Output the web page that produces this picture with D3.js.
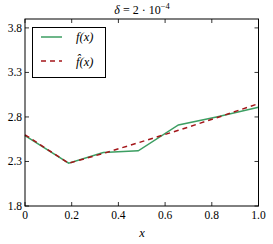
<!DOCTYPE html>
<html><head><meta charset="utf-8">
<script src="https://cdnjs.cloudflare.com/ajax/libs/d3/7.8.5/d3.min.js"></script>
<style>body{margin:0;background:#fff}svg{display:block}text{font-family:"Liberation Serif","Times New Roman","DejaVu Serif",serif}</style>
</head><body>
<script>
const xs = [0, 0.187, 0.335, 0.485, 0.657, 0.82, 1.0];
const fVals = [2.59, 2.28, 2.40, 2.42, 2.71, 2.80, 2.91];
const fhatVals = [2.60, 2.28, 2.39, 2.51, 2.65, 2.79, 2.95];
const xTicks = [0, 0.2, 0.4, 0.6, 0.8, 1.0];
const yTicks = [1.8, 2.3, 2.8, 3.3, 3.8];
const seriesNames = ["f(x)", "f̂(x)"];

const W = 273, H = 244;
const svg = d3.select("body").append("svg").attr("width", W).attr("height", H);
const L = 25, R = 258.5, T = 19, B = 206;
const x = d3.scaleLinear().domain([0, 1]).range([L, R]);
const y = d3.scaleLinear().domain([1.8, 3.9]).range([B, T]);

const tl = 4;
xTicks.forEach(t => {
  svg.append("line").attr("x1", x(t)).attr("x2", x(t)).attr("y1", B).attr("y2", B - tl).attr("stroke", "#000").attr("stroke-width", 0.8);
  svg.append("line").attr("x1", x(t)).attr("x2", x(t)).attr("y1", T).attr("y2", T + tl).attr("stroke", "#000").attr("stroke-width", 0.8);
  svg.append("text").attr("x", x(t)).attr("y", B + 13).attr("text-anchor", "middle")
    .style("font-size", "11.5px").text(t === 0 ? "0" : t.toFixed(1));
});
yTicks.forEach(t => {
  svg.append("line").attr("x1", L).attr("x2", L + tl).attr("y1", y(t)).attr("y2", y(t)).attr("stroke", "#000").attr("stroke-width", 0.8);
  svg.append("line").attr("x1", R).attr("x2", R - tl).attr("y1", y(t)).attr("y2", y(t)).attr("stroke", "#000").attr("stroke-width", 0.8);
  svg.append("text").attr("x", L - 3).attr("y", y(t) + 4).attr("text-anchor", "end")
    .style("font-size", "11.5px").text(t.toFixed(1));
});

const line = d3.line().x((d, i) => x(xs[i])).y(d => y(d));
svg.append("path").attr("d", line(fVals)).attr("fill", "none").attr("stroke", "#3c9e62").attr("stroke-width", 1.5);
svg.append("path").attr("d", line(fhatVals)).attr("fill", "none").attr("stroke", "#a4161a").attr("stroke-width", 1.5).attr("stroke-dasharray", "5,4");

svg.append("rect").attr("x", L).attr("y", T).attr("width", R - L).attr("height", B - T)
  .attr("fill", "none").attr("stroke", "#000").attr("stroke-width", 1);

const lg = svg.append("g");
lg.append("rect").attr("x", 32.5).attr("y", 27.5).attr("width", 73).attr("height", 50)
  .attr("fill", "#fff").attr("stroke", "#000").attr("stroke-width", 1);
lg.append("line").attr("x1", 41).attr("x2", 62).attr("y1", 37).attr("y2", 37).attr("stroke", "#3c9e62").attr("stroke-width", 1.5);
lg.append("line").attr("x1", 41).attr("x2", 62).attr("y1", 61).attr("y2", 61).attr("stroke", "#a4161a").attr("stroke-width", 1.5).attr("stroke-dasharray", "5,4");
lg.append("text").attr("x", 76).attr("y", 41).style("font-size", "12.5px").style("font-style", "italic").text(seriesNames[0]);
lg.append("text").attr("x", 76).attr("y", 66).style("font-size", "12.5px").style("font-style", "italic").text(seriesNames[1]);

const tt = svg.append("text").attr("x", 142).attr("y", 14).attr("text-anchor", "middle").style("font-size", "12px");
tt.append("tspan").style("font-style", "italic").text("δ");
tt.append("tspan").text(" = 2 · 10");
tt.append("tspan").attr("dy", -5).style("font-size", "8.5px").text("−4");

svg.append("text").attr("x", 142).attr("y", 237).attr("text-anchor", "middle")
  .style("font-size", "12.5px").style("font-style", "italic").text("x");
</script>
</body></html>
